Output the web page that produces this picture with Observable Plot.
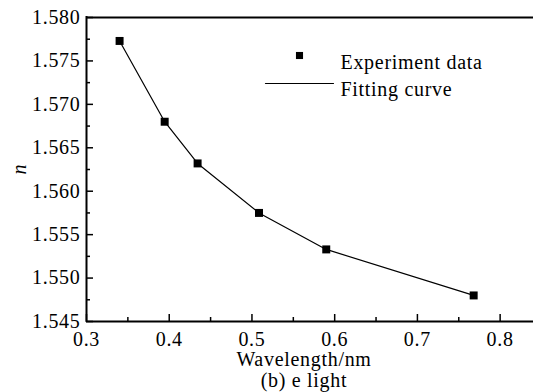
<!DOCTYPE html>
<html><head><meta charset="utf-8">
<script src="https://cdn.jsdelivr.net/npm/d3@7"></script>
<script src="https://cdn.jsdelivr.net/npm/@observablehq/plot@0.6"></script>
<style>
html,body{margin:0;padding:0;background:#fff;overflow:hidden;width:533px;height:392px}
#chart{position:relative;width:545px;height:392px;font-family:'Liberation Serif',serif}
#chart svg{display:block;max-width:none}
#chart svg text{font-family:'Liberation Serif',serif;letter-spacing:0.7px}
#chart svg g[aria-label='y-axis label'] text{font-style:italic;letter-spacing:0}
.cap{position:absolute;left:0;top:349px;width:608px;text-align:center;font-family:'Liberation Serif',serif;font-size:20px;line-height:21px;letter-spacing:0.7px;color:#000}
</style></head><body><div id="chart"></div><script>
// Data
const wavelength = [0.340, 0.3945, 0.4343, 0.5085, 0.5898, 0.768];
const refractiveIndex = [1.5773, 1.5680, 1.5632, 1.5575, 1.5533, 1.5480];
const xTicks = [0.3, 0.4, 0.5, 0.6, 0.7, 0.8];
const xMinorTicks = [0.35, 0.45, 0.55, 0.65, 0.75];
const yTicks = [1.545, 1.550, 1.555, 1.560, 1.565, 1.570, 1.575, 1.580];
const yMinorTicks = [1.5475, 1.5525, 1.5575, 1.5625, 1.5675, 1.5725, 1.5775];
const legendLabels = ["Experiment data", "Fitting curve"];
const xLabel = "Wavelength/nm";
const yLabel = "n";
const caption = "(b) e light";
const xDomain = [0.3, 0.85];
const yDomain = [1.545, 1.58];

const data = wavelength.map((x, i) => ({x, y: refractiveIndex[i]}));
const W = 545, H = 348, mL = 86, mT = 17, mR = 4, mB = 27;
const pw = W - mL - mR, ph = H - mT - mB;
const serif = "'Liberation Serif', serif";
const lineShape = {draw(ctx, l) { ctx.moveTo(0, 0); ctx.lineTo(0, -l); }};

const plot = Plot.plot({
  width: W, height: H, marginLeft: mL, marginTop: mT, marginRight: mR, marginBottom: mB,
  style: {fontFamily: serif, fontSize: "20px", color: "#000", background: "#fff", overflow: "visible"},
  x: {domain: xDomain},
  y: {domain: yDomain},
  marks: [
    Plot.ruleY(yDomain, {stroke: "#000", strokeWidth: 2}),
    Plot.ruleX([xDomain[0]], {stroke: "#000", strokeWidth: 2, insetTop: -1, insetBottom: -1}),
    Plot.tickX(xTicks, {x: d => d, insetTop: ph - 7, stroke: "#000", strokeWidth: 1.5}),
    Plot.tickX(xMinorTicks, {x: d => d, insetTop: ph - 4, stroke: "#000", strokeWidth: 1.5}),
    Plot.tickY(yTicks, {y: d => d, insetRight: pw - 7, stroke: "#000", strokeWidth: 1.5}),
    Plot.tickY(yMinorTicks, {y: d => d, insetRight: pw - 4, stroke: "#000", strokeWidth: 1.5}),
    Plot.axisX(xTicks, {tickSize: 0, tickPadding: 10, tickFormat: d => d.toFixed(1), label: null, fontFamily: serif}),
    Plot.axisY(yTicks, {tickSize: 0, tickPadding: 6, tickFormat: d => d.toFixed(3), label: yLabel, labelAnchor: "center", labelArrow: "none", labelOffset: 75, fontFamily: serif}),
    Plot.line(data, {x: "x", y: "y", stroke: "#000", strokeWidth: 1.2}),
    Plot.dot(data, {x: "x", y: "y", symbol: "square", r: 4.5, fill: "#000", stroke: "none"}),
    // legend
    Plot.dot([legendLabels[0]], {frameAnchor: "top-left", dx: 213, dy: 38, symbol: "square", r: 4, fill: "#000", stroke: "none"}),
    Plot.text([legendLabels[0]], {text: d => d, frameAnchor: "top-left", dx: 254, dy: 37, textAnchor: "start", fontSize: 20, fontFamily: serif, fill: "#000"}),
    Plot.vector([legendLabels[1]], {frameAnchor: "top-left", dx: 179, dy: 66, length: 68, rotate: 90, anchor: "start", shape: lineShape, stroke: "#000", strokeWidth: 1.2}),
    Plot.text([legendLabels[1]], {text: d => d, frameAnchor: "top-left", dx: 254, dy: 64.5, textAnchor: "start", fontSize: 20, fontFamily: serif, fill: "#000"})
  ]
});
const chart = document.getElementById("chart");
chart.appendChild(plot);
const cap = document.createElement("div");
cap.className = "cap";
cap.innerHTML = xLabel + "<br>" + caption;
chart.appendChild(cap);
</script></body></html>
